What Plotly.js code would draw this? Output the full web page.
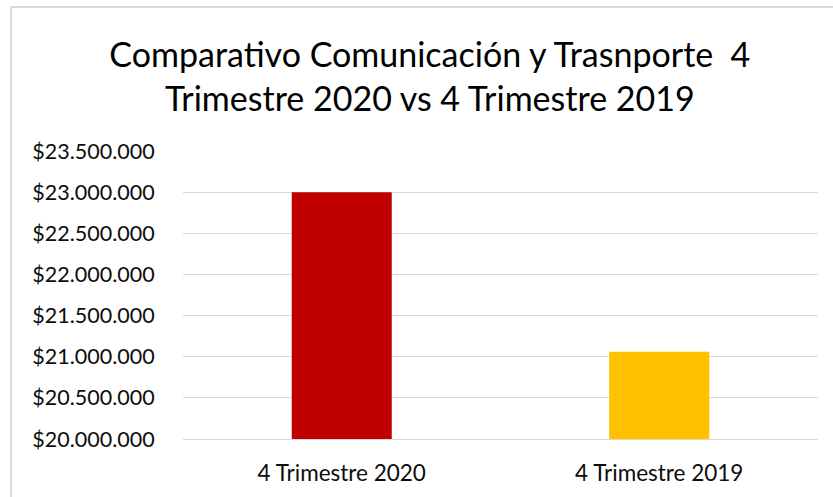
<!DOCTYPE html>
<html>
<head>
<meta charset="utf-8">
<script src="https://cdn.plot.ly/plotly-3.0.1.min.js"></script>
<style>
  html, body { margin: 0; padding: 0; overflow: hidden; background: #fff; }
  #wrap { position: relative; width: 833px; height: 497px; }
  #chart { width: 833px; height: 497px; }
  #frame { position: absolute; left: 10px; top: 6px; width: 900px; height: 600px;
           border-left: 2px solid #d9d9d9; border-top: 2px solid #d9d9d9; pointer-events: none; }
</style>
</head>
<body>
<div id="wrap">
  <div id="chart"></div>
  <div id="frame"></div>
</div>
<script>
const categories = ["4 Trimestre 2020", "4 Trimestre 2019"];
const values = [23000000, 21060000];
const barColors = ["#C00000", "#FFC000"];
const titleText = "Comparativo Comunicación y Trasnporte  4<br>Trimestre 2020 vs 4 Trimestre 2019";

const FONT = "Lato, 'Open Sans', sans-serif";

Plotly.newPlot("chart", [{
  type: "bar",
  x: categories,
  y: values,
  marker: { color: barColors },
  width: 0.315,
  hoverinfo: "x+y"
}], {
  width: 833,
  height: 497,
  paper_bgcolor: "#ffffff",
  plot_bgcolor: "#ffffff",
  separators: ",.",
  margin: { l: 183, r: 15, t: 151, b: 58 },
  font: { family: FONT, color: "#0d0d0d", size: 21 },
  title: {
    text: titleText,
    font: { family: FONT, size: 34, color: "#000000" },
    x: 0.516, xref: "container", xanchor: "center",
    y: 0.866, yref: "container", yanchor: "middle"
  },
  showlegend: false,
  xaxis: {
    type: "category",
    showgrid: false,
    showline: true,
    linecolor: "#d9d9d9",
    linewidth: 1,
    ticks: "outside",
    ticklen: 14,
    tickcolor: "rgba(0,0,0,0)",
    tickfont: { family: FONT, size: 22.5, color: "#0d0d0d" },
    zeroline: false
  },
  yaxis: {
    range: [20000000, 23500000],
    dtick: 500000,
    tick0: 20000000,
    tickprefix: "$",
    tickformat: ",.0f",
    showgrid: true,
    gridcolor: "#d9d9d9",
    gridwidth: 1,
    zeroline: false,
    showline: false,
    ticks: "outside",
    ticklen: 23,
    tickcolor: "rgba(0,0,0,0)",
    tickfont: { family: FONT, size: 21.5, color: "#0d0d0d" }
  }
}, { displayModeBar: false, staticPlot: true });
</script>
</body>
</html>
